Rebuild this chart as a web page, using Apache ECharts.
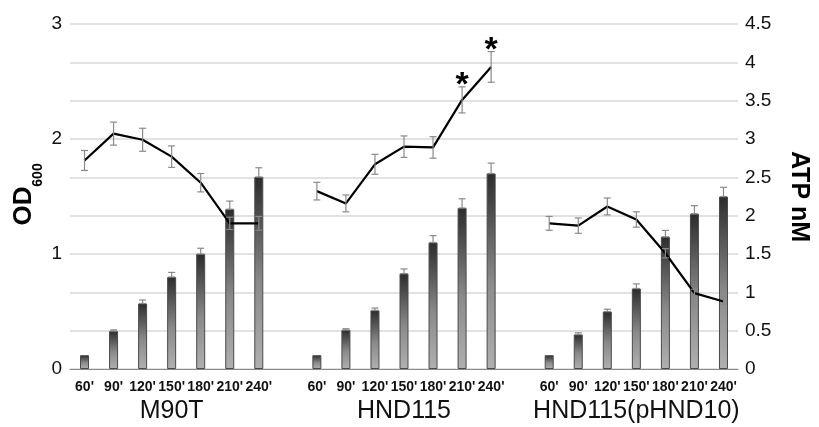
<!DOCTYPE html>
<html>
<head>
<meta charset="utf-8">
<script src="https://cdn.jsdelivr.net/npm/echarts@6/dist/echarts.min.js"></script>
<style>html,body{margin:0;padding:0;background:#fff}#c{width:819px;height:427px}</style>
</head>
<body>
<div id="c"></div>
<script>
// ---- data ----
const times = ["60'", "90'", "120'", "150'", "180'", "210'", "240'"];
const groups = ["M90T", "HND115", "HND115(pHND10)"];
// OD600 (left axis)
const odM90T      = [0.12, 0.33, 0.57, 0.80, 1.00, 1.39, 1.67];
const odErrM90T   = [0.00, 0.01, 0.03, 0.04, 0.05, 0.07, 0.08];
const odHND115    = [0.12, 0.34, 0.51, 0.83, 1.10, 1.40, 1.70];
const odErrHND115 = [0.00, 0.01, 0.02, 0.04, 0.06, 0.08, 0.09];
const odPHND10    = [0.12, 0.30, 0.50, 0.70, 1.15, 1.35, 1.50];
const odErrPHND10 = [0.00, 0.015, 0.02, 0.04, 0.055, 0.07, 0.08];
// ATP nM (right axis)
const atpM90T      = [2.72, 3.07, 2.99, 2.77, 2.43, 1.90, 1.90];
const atpErrM90T   = [0.13, 0.15, 0.15, 0.14, 0.12, 0.08, 0.09];
const atpHND115    = [2.32, 2.16, 2.67, 2.90, 2.89, 3.51, 3.94];
const atpErrHND115 = [0.115, 0.11, 0.13, 0.14, 0.14, 0.17, 0.20];
const atpPHND10    = [1.90, 1.87, 2.12, 1.95, 1.51, 0.99, 0.88];
const atpErrPHND10 = [0.09, 0.10, 0.11, 0.10, 0.06, 0.05, 0.04];
// significance marks (HND115 only)
const sigHND115 = [0, 0, 0, 0, 0, 1, 1];

// ---- build combined category layout (one empty slot between groups) ----
const odSets = [[odM90T, odErrM90T], [odHND115, odErrHND115], [odPHND10, odErrPHND10]];
const atpSets = [[atpM90T, atpErrM90T, null], [atpHND115, atpErrHND115, sigHND115], [atpPHND10, atpErrPHND10, null]];
const cats = [], groupLabels = [], barData = [], lineData = [], barErr = [], lineErr = [];
groups.forEach((g, gi) => {
  if (gi > 0) { cats.push(''); groupLabels.push(''); barData.push(null); lineData.push(null); }
  times.forEach((t, ti) => {
    const idx = cats.length;
    cats.push(t);
    groupLabels.push(ti === 3 ? g : '');
    const od = odSets[gi][0][ti], odE = odSets[gi][1][ti];
    barData.push(od);
    if (odE > 0) barErr.push([idx, od, od + odE, 0]);
    const a = atpSets[gi][0][ti], aE = atpSets[gi][1][ti];
    const sig = atpSets[gi][2] ? atpSets[gi][2][ti] : 0;
    lineData.push(a);
    lineErr.push([idx, a - aE, a + aE, sig]);
  });
});

const FONT = 'Liberation Sans, Arial, sans-serif';
function errRender(params, api) {
  const x = api.value(0), lo = api.value(1), hi = api.value(2), sig = api.value(3);
  const pLo = api.coord([x, lo]), pHi = api.coord([x, hi]);
  const w = 3.5;
  const st = { stroke: '#8a8a8a', lineWidth: 1.2 };
  const ch = [
    { type: 'line', shape: { x1: pLo[0], y1: pLo[1], x2: pHi[0], y2: pHi[1] }, style: st },
    { type: 'line', shape: { x1: pHi[0] - w, y1: pHi[1], x2: pHi[0] + w, y2: pHi[1] }, style: st },
    { type: 'line', shape: { x1: pLo[0] - w, y1: pLo[1], x2: pLo[0] + w, y2: pLo[1] }, style: st }
  ];
  if (sig) {
    ch.push({ type: 'text', x: pHi[0], y: pHi[1] - 1, style: {
      text: '*', fontSize: 34, fontWeight: 'bold', fontFamily: FONT, fill: '#000',
      textAlign: 'center', textVerticalAlign: 'middle' } });
  }
  return { type: 'group', children: ch };
}

const chart = echarts.init(document.getElementById('c'), null, { renderer: 'canvas' });
chart.setOption({
  animation: false,
  backgroundColor: '#fff',
  textStyle: { fontFamily: FONT },
  grid: { left: 70, right: 69, top: 24, bottom: 58 },
  xAxis: [
    { type: 'category', data: cats, boundaryGap: true,
      axisLine: { lineStyle: { color: '#8a8a8a', width: 1 } }, axisTick: { show: false },
      axisLabel: { interval: 0, fontSize: 14, fontWeight: 'bold', color: '#111', margin: 11, fontFamily: FONT } },
    { type: 'category', data: groupLabels, position: 'bottom', offset: 19, boundaryGap: true,
      axisLine: { show: false }, axisTick: { show: false }, splitLine: { show: false },
      axisLabel: { interval: 0, fontSize: 25, color: '#111', margin: 11, fontFamily: FONT } }
  ],
  yAxis: [
    { type: 'value', min: 0, max: 3, interval: 1, position: 'left',
      axisLine: { show: false }, axisTick: { show: false }, splitLine: { show: false },
      axisLabel: { fontSize: 19, color: '#111', margin: 8, fontFamily: FONT } },
    { type: 'value', min: 0, max: 4.5, interval: 0.5, position: 'right',
      name: 'ATP nM', nameLocation: 'middle', nameRotate: -90, nameGap: 48,
      nameTextStyle: { fontSize: 25, fontWeight: 'bold', color: '#000', fontFamily: FONT },
      axisLine: { show: false }, axisTick: { show: false },
      splitLine: { lineStyle: { color: '#d9d9d9', width: 1.5 } },
      axisLabel: { fontSize: 19, color: '#111', margin: 7, fontFamily: FONT } }
  ],
  graphic: [
    { type: 'text', x: 24, y: 206, rotation: Math.PI / 2, style: { text: 'OD', fontSize: 26, fontWeight: 'bold', fontFamily: FONT, fill: '#000', textAlign: 'center', textVerticalAlign: 'middle' } },
    { type: 'text', x: 38, y: 175, rotation: Math.PI / 2, style: { text: '600', fontSize: 14, fontWeight: 'bold', fontFamily: FONT, fill: '#000', textAlign: 'center', textVerticalAlign: 'middle' } }
  ],
  series: [
    { type: 'bar', xAxisIndex: 0, yAxisIndex: 0, data: barData, barWidth: 9, z: 2,
      itemStyle: {
        borderColor: '#4a4a4a', borderWidth: 1,
        color: new echarts.graphic.LinearGradient(0, 0, 0, 1, [
          { offset: 0, color: '#2c2c2c' }, { offset: 0.55, color: '#8a8a8a' }, { offset: 1, color: '#b0b0b0' }
        ])
      } },
    { type: 'custom', xAxisIndex: 0, yAxisIndex: 0, data: barErr, renderItem: errRender, z: 3,
      encode: { x: 0, y: [1, 2] } },
    { type: 'line', xAxisIndex: 0, yAxisIndex: 1, data: lineData, showSymbol: false, symbol: 'none',
      connectNulls: false, lineStyle: { color: '#000', width: 2.2 }, z: 4 },
    { type: 'custom', xAxisIndex: 0, yAxisIndex: 1, data: lineErr, renderItem: errRender, z: 5,
      encode: { x: 0, y: [1, 2] } }
  ]
});
</script>
</body>
</html>
